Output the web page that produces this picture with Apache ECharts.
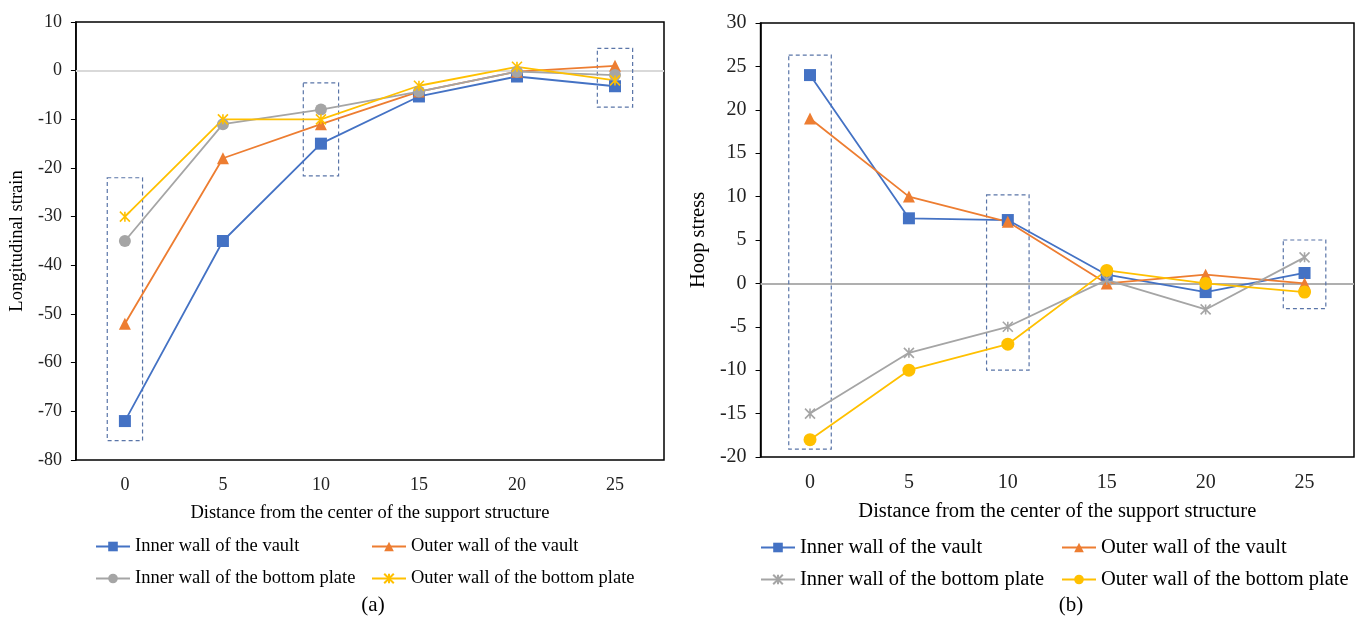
<!DOCTYPE html>
<html>
<head>
<meta charset="utf-8">
<script src="https://cdn.jsdelivr.net/npm/echarts@6/dist/echarts.min.js"></script>
<style>
  html, body { margin: 0; padding: 0; background: #fff; }
  .wrap { width: 1359px; height: 620px; position: relative; }
  #chartA { position: absolute; left: 0; top: 0; width: 680px; height: 620px; }
  #chartB { position: absolute; left: 680px; top: 0; width: 679px; height: 620px; }
</style>
</head>
<body>
<div class="wrap">
  <div id="chartA"></div>
  <div id="chartB"></div>
</div>
<script>
// distance from the center of the support structure
const categories = ['0', '5', '10', '15', '20', '25']
const seriesNames = [
  'Inner wall of the vault',
  'Outer wall of the vault',
  'Inner wall of the bottom plate',
  'Outer wall of the bottom plate',
]

// (a) longitudinal strain
const strainInnerVault = [-72, -35, -15, -5.3, -1.2, -3.2]
const strainOuterVault = [-52, -18, -11, -4.3, -0.2, 1]
const strainInnerPlate = [-35, -11, -8, -4.3, -0.2, -0.9]
const strainOuterPlate = [-30, -10, -10, -3.1, 0.8, -2]
// dashed boxes: [category index, top, bottom]
const strainBoxes = [[0, -22, -76], [2, -2.5, -21.6], [5, 4.6, -7.5]]

// (b) hoop stress
const stressInnerVault = [24, 7.5, 7.3, 1, -1, 1.2]
const stressOuterVault = [19, 10, 7.1, 0, 1, 0]
const stressInnerPlate = [-15, -8, -5, 0.4, -3, 3]
const stressOuterPlate = [-18, -10, -7, 1.5, 0, -1]
const stressBoxes = [[0, 26.3, -19.1], [2, 10.2, -10], [5, 5, -2.9]]

const FONT = 'Liberation Serif'
const colorList = ['#4472C4', '#ED7D31', '#A5A5A5', '#FFC000']
const star = 'path://M0 0 L20 20 M20 0 L0 20 M10 0 L10 20'

function boxRender(frac) {
  return function (params, api) {
    const top = api.coord([api.value(0), api.value(1)])
    const bot = api.coord([api.value(0), api.value(2)])
    const w = api.size([1, 0])[0] * frac
    return {
      type: 'rect',
      shape: { x: top[0] - w / 2, y: top[1], width: w, height: bot[1] - top[1] },
      style: { fill: 'none', stroke: '#5A75A8', lineWidth: 1.2, lineDash: [4, 3] },
    }
  }
}

function lineSeries(name, data, color, symbol, size) {
  const s = {
    name: name,
    type: 'line',
    data: data,
    symbol: symbol,
    symbolSize: size,
    z: 3,
    lineStyle: { color: color, width: 1.8 },
    itemStyle: { color: color },
  }
  if (symbol === star) {
    s.itemStyle = { color: color, borderColor: color, borderWidth: 1.6 }
  }
  return s
}

function legendAt(name, left, top, fs) {
  return {
    data: [name],
    left: left,
    top: top,
    padding: 0,
    itemWidth: 34,
    itemHeight: 12,
    itemGap: 4,
    textStyle: { fontFamily: FONT, fontSize: fs, color: '#000' },
  }
}

function buildOption(cfg) {
  return {
    animation: false,
    title: {
      text: cfg.label,
      left: cfg.labelX,
      top: 590,
      textAlign: 'center',
      textStyle: { fontFamily: FONT, fontSize: 21, fontWeight: 'normal', color: '#000' },
    },
    legend: [
      legendAt(seriesNames[0], cfg.legendX[0], 537, cfg.fs),
      legendAt(seriesNames[1], cfg.legendX[1], 537, cfg.fs),
      legendAt(seriesNames[2], cfg.legendX[0], 569, cfg.fs),
      legendAt(seriesNames[3], cfg.legendX[1], 569, cfg.fs),
    ],
    grid: {
      show: true,
      left: cfg.grid[0],
      right: cfg.grid[1],
      top: cfg.grid[2],
      bottom: cfg.grid[3],
      borderColor: '#000',
      borderWidth: 1.5,
    },
    xAxis: {
      type: 'category',
      data: categories,
      boundaryGap: true,
      name: 'Distance from the center of the support structure',
      nameLocation: 'middle',
      nameGap: 44,
      nameTextStyle: { fontFamily: FONT, fontSize: cfg.fs, color: '#000' },
      axisLine: { show: false },
      axisTick: { show: false },
      axisLabel: { fontFamily: FONT, fontSize: cfg.tickFs, color: '#222', margin: 16 },
    },
    yAxis: {
      type: 'value',
      min: cfg.yMin,
      max: cfg.yMax,
      interval: cfg.yStep,
      name: cfg.yName,
      nameLocation: 'middle',
      nameGap: cfg.nameGap,
      nameTextStyle: { fontFamily: FONT, fontSize: cfg.fs, color: '#000' },
      axisLine: { show: true, lineStyle: { color: '#000', width: 1.5 } },
      axisTick: { show: true, length: 5, lineStyle: { color: '#000' } },
      splitLine: { show: false },
      axisLabel: { fontFamily: FONT, fontSize: cfg.tickFs, color: '#222', margin: 14 },
    },
    series: [
      {
        type: 'custom',
        renderItem: boxRender(cfg.boxFrac),
        data: cfg.boxes,
        silent: true,
        z: 1,
        markLine: {
          silent: true,
          z: 1,
          symbol: 'none',
          label: { show: false },
          lineStyle: { color: cfg.zeroColor, width: 2, type: 'solid' },
          data: [{ yAxis: 0 }],
        },
      },
      lineSeries(seriesNames[0], cfg.data[0], colorList[0], 'rect', 12),
      lineSeries(seriesNames[1], cfg.data[1], colorList[1], 'triangle', 12),
      lineSeries(seriesNames[2], cfg.data[2], colorList[2], cfg.symbols[0], cfg.symbols[1]),
      lineSeries(seriesNames[3], cfg.data[3], colorList[3], cfg.symbols[2], cfg.symbols[3]),
    ],
  }
}

const chartA = echarts.init(document.getElementById('chartA'))
chartA.setOption(buildOption({
  label: '(a)',
  labelX: 368,
  legendX: [95, 371],
  fs: 18.5,
  tickFs: 18,
  grid: [73, 16, 22, 160],
  yMin: -80, yMax: 10, yStep: 10,
  yName: 'Longitudinal strain',
  nameGap: 46,
  boxes: strainBoxes,
  boxFrac: 0.36,
  zeroColor: '#D9D9D9',
  data: [strainInnerVault, strainOuterVault, strainInnerPlate, strainOuterPlate],
  symbols: ['circle', 12, star, 10],
}))

const chartB = echarts.init(document.getElementById('chartB'))
chartB.setOption(buildOption({
  label: '(b)',
  labelX: 386,
  legendX: [80, 381],
  fs: 20.5,
  tickFs: 20,
  grid: [79, 5, 23, 163],
  yMin: -20, yMax: 30, yStep: 5,
  yName: 'Hoop stress',
  nameGap: 34,
  boxes: stressBoxes,
  boxFrac: 0.43,
  zeroColor: '#AFAFAF',
  data: [stressInnerVault, stressOuterVault, stressInnerPlate, stressOuterPlate],
  symbols: [star, 10, 'circle', 13],
}))
</script>
</body>
</html>
